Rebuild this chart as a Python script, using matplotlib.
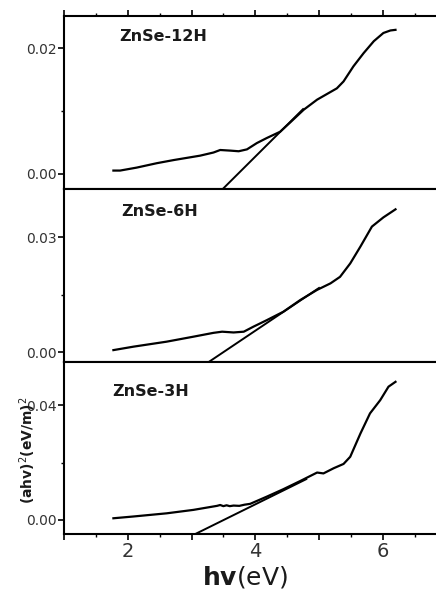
import numpy as np
import matplotlib
matplotlib.use('Agg')
import matplotlib.pyplot as plt
from matplotlib.ticker import MultipleLocator, FuncFormatter

# sample names
samples = ['ZnSe-12H', 'ZnSe-6H', 'ZnSe-3H']

# (ahv)^2 curves
hv_12h = [1.775, 1.88, 2.14, 2.455, 2.72, 3.135, 3.345, 3.45, 3.61, 3.74, 3.87, 4.025,
          4.18, 4.39, 4.55, 4.76, 4.97, 5.28, 5.385, 5.54, 5.70, 5.86, 6.01, 6.12, 6.20]
abs_12h = [0.00053, 0.00053, 0.0010, 0.0017, 0.0022, 0.0029, 0.0034, 0.0038, 0.0037, 0.0036,
           0.0039, 0.0049, 0.0057, 0.0067, 0.0082, 0.0102, 0.0118, 0.0136, 0.0147, 0.0171,
           0.0192, 0.0211, 0.0224, 0.0228, 0.0229]

hv_6h = [1.775, 2.09, 2.61, 3.03, 3.345, 3.48, 3.66, 3.82, 3.97, 4.18, 4.44, 4.71, 4.97,
         5.18, 5.33, 5.49, 5.65, 5.83, 6.01, 6.20]
abs_6h = [0.0006, 0.0015, 0.0028, 0.0041, 0.0051, 0.0054, 0.0052, 0.0054, 0.0067, 0.0084,
          0.0106, 0.0137, 0.0163, 0.0180, 0.0197, 0.0232, 0.0276, 0.0328, 0.0352, 0.0373]

hv_3h = [1.775, 2.09, 2.61, 3.03, 3.40, 3.45, 3.5, 3.55, 3.6, 3.66, 3.75, 3.83, 3.92, 4.18,
         4.44, 4.71, 4.97, 5.07, 5.23, 5.385, 5.49, 5.65, 5.80, 5.96, 6.09, 6.20]
abs_3h = [0.00058, 0.0012, 0.0023, 0.0035, 0.0049, 0.0052, 0.0048, 0.0051, 0.0048, 0.0050,
          0.0049, 0.0053, 0.0056, 0.0081, 0.0107, 0.0136, 0.0165, 0.0162, 0.0180, 0.0195,
          0.0220, 0.0301, 0.0371, 0.0417, 0.0464, 0.0481]

# linear extrapolation lines (end points)
fit_x = [[3.49, 4.75], [3.27, 5.0], [3.06, 4.8]]
fit_y = [[-0.0024, 0.0103], [-0.0025, 0.0168], [-0.0049, 0.0142]]

ylims = [(-0.0024, 0.0251), (-0.0025, 0.0426), (-0.0049, 0.055)]
ymajor = [0.02, 0.03, 0.04]

curves = [(hv_12h, abs_12h), (hv_6h, abs_6h), (hv_3h, abs_3h)]

W, H = 436, 591
fig = plt.figure(figsize=(W / 100, H / 100), dpi=100)

left = 64 / W
right = 446.5 / W
edges = [16, 189, 362, 534]

for i in range(3):
    top = 1 - edges[i] / H
    bot = 1 - edges[i + 1] / H
    ax = fig.add_axes([left, bot, right - left, top - bot])
    x, y = curves[i]
    ax.plot(x, y, color='black', lw=1.6)
    ax.plot(fit_x[i], fit_y[i], color='black', lw=1.4)
    ax.set_xlim(1, 7)
    ax.set_ylim(*ylims[i])
    ax.yaxis.set_major_locator(MultipleLocator(ymajor[i]))
    ax.yaxis.set_minor_locator(MultipleLocator(ymajor[i] / 2))
    ax.yaxis.set_major_formatter(FuncFormatter(lambda v, p: '%.2f' % v))
    ax.xaxis.set_major_locator(MultipleLocator(1))
    ax.xaxis.set_minor_locator(MultipleLocator(0.5))
    for s in ax.spines.values():
        s.set_linewidth(1.5)
    ax.tick_params(axis='y', which='major', direction='out', length=4, width=1.2,
                   labelsize=10, labelcolor='#333333', pad=1)
    ax.tick_params(axis='y', which='minor', direction='out', length=2.5, width=1.0)
    ax.tick_params(axis='x', which='major', direction='out', length=4, width=1.2,
                   top=(i == 0), labelsize=14, labelcolor='#333333', pad=2)
    ax.tick_params(axis='x', which='minor', direction='out', length=2.5, width=1.0,
                   top=(i == 0))
    if i < 2:
        ax.tick_params(axis='x', labelbottom=False)
    else:
        ax.xaxis.set_major_formatter(FuncFormatter(lambda v, p: '%d' % v if int(round(v)) % 2 == 0 else ''))
    tx = [0.145, 0.15, 0.125][i]
    ty = [0.88, 0.87, 0.83][i]
    ax.text(tx, ty, samples[i], transform=ax.transAxes, fontsize=11.5,
            fontweight='bold', color='#1a1a1a', va='center', ha='left')

fig.text(245 / W, 1 - 577 / H, r'$\mathbf{hv}$(eV)', fontsize=18, ha='center', va='center',
         color='#1a1a1a')
fig.text(28 / W, 1 - 450 / H, r'(ahv)$^2$(eV/m)$^2$', fontsize=10, fontweight='bold',
         rotation=90, ha='center', va='center', color='#1a1a1a')

fig.savefig('out.png', dpi=100)
